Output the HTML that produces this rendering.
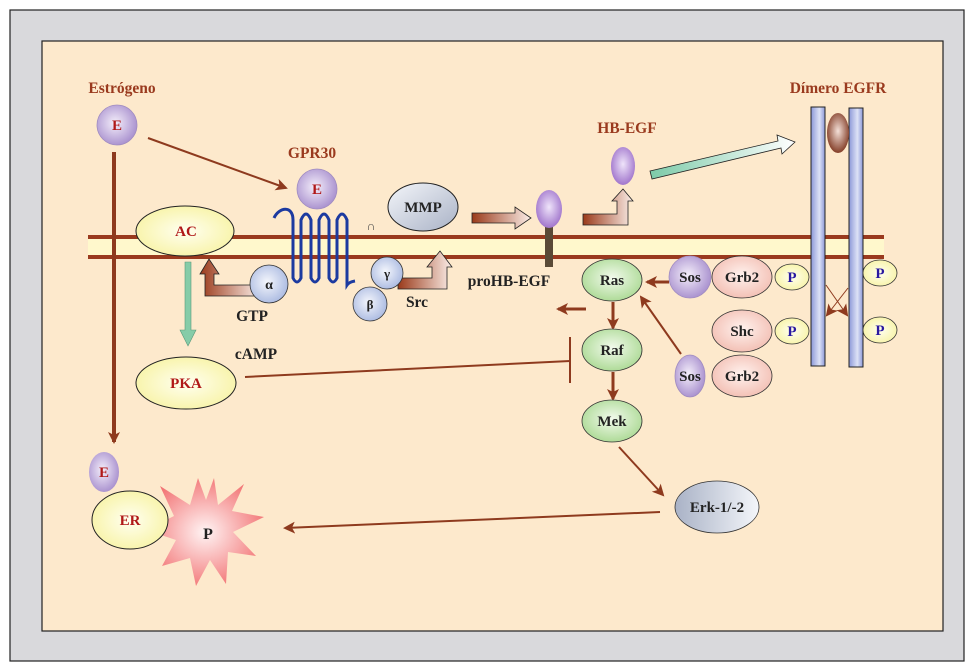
<!DOCTYPE html>
<html><head><meta charset="utf-8"><style>
html,body{margin:0;padding:0;background:#fff}
svg{display:block}
text{font-family:"Liberation Serif",serif;font-weight:bold}
</style></head><body>
<svg width="974" height="670" viewBox="0 0 974 670" xmlns="http://www.w3.org/2000/svg">
<defs>
<radialGradient id="gp" cx="0.45" cy="0.45" r="0.6"><stop offset="0" stop-color="#f4eefa"/><stop offset="1" stop-color="#a58ccc"/></radialGradient>
<radialGradient id="gp2" cx="0.5" cy="0.45" r="0.6"><stop offset="0" stop-color="#efe4fa"/><stop offset="1" stop-color="#9a6cc8"/></radialGradient>
<radialGradient id="gy" cx="0.5" cy="0.5" r="0.6"><stop offset="0" stop-color="#fffff0"/><stop offset="1" stop-color="#f7f2a0"/></radialGradient>
<radialGradient id="gb" cx="0.45" cy="0.45" r="0.6"><stop offset="0" stop-color="#f4f6fc"/><stop offset="1" stop-color="#a8b8e0"/></radialGradient>
<radialGradient id="gg" cx="0.5" cy="0.45" r="0.6"><stop offset="0" stop-color="#f2faec"/><stop offset="1" stop-color="#a8d890"/></radialGradient>
<radialGradient id="gk" cx="0.5" cy="0.45" r="0.6"><stop offset="0" stop-color="#fff2ee"/><stop offset="1" stop-color="#f2bcb0"/></radialGradient>
<radialGradient id="gs" cx="0.5" cy="0.5" r="0.55"><stop offset="0" stop-color="#fff4f4"/><stop offset="1" stop-color="#f27272"/></radialGradient>
<radialGradient id="gbr" cx="0.5" cy="0.45" r="0.6"><stop offset="0" stop-color="#f4e0d8"/><stop offset="1" stop-color="#7a3018"/></radialGradient>
<linearGradient id="gm" x1="0" y1="0" x2="1" y2="0"><stop offset="0" stop-color="#a9b2c6"/><stop offset="1" stop-color="#f4f6fa"/></linearGradient>
<linearGradient id="gm2" x1="0" y1="0" x2="1" y2="1"><stop offset="0" stop-color="#f4f6fa"/><stop offset="1" stop-color="#a9b2c6"/></linearGradient>
<linearGradient id="gbar" x1="0" y1="0" x2="1" y2="0"><stop offset="0" stop-color="#8c98d8"/><stop offset="0.6" stop-color="#dde2f6"/><stop offset="1" stop-color="#8c98d8"/></linearGradient>
<linearGradient id="gar" x1="0" y1="0" x2="1" y2="0"><stop offset="0" stop-color="#9a3a1a"/><stop offset="1" stop-color="#fbeee8"/></linearGradient>
<linearGradient id="gteal" x1="0" y1="0" x2="1" y2="0"><stop offset="0" stop-color="#7ccaa8"/><stop offset="1" stop-color="#ffffff"/></linearGradient>
<marker id="ah" markerWidth="12" markerHeight="12" refX="10" refY="6" orient="auto" markerUnits="userSpaceOnUse"><path d="M0,0 L12,6 L0,12 L3,6 z" fill="#8e3a1e"/></marker>
</defs>
<rect x="10" y="10" width="954" height="651" fill="#d9d9dc" stroke="#222" stroke-width="1.2"/>
<rect x="42" y="41" width="901" height="590" fill="#fde9cc" stroke="#222" stroke-width="1.2"/>
<rect x="88" y="237" width="796" height="20" fill="#fff8cc"/>
<line x1="88" y1="237" x2="884" y2="237" stroke="#9a3a1e" stroke-width="4"/>
<line x1="88" y1="257" x2="884" y2="257" stroke="#9a3a1e" stroke-width="4"/>
<text x="122" y="93" font-size="15.5" fill="#9a3a1e" text-anchor="middle">Estrógeno</text>
<circle cx="117" cy="125" r="20" fill="url(#gp)" stroke="#a08cc0" stroke-width="0.8"/>
<text x="117" y="130" font-size="15" fill="#b01818" text-anchor="middle">E</text>
<line x1="114" y1="152" x2="114" y2="442" stroke="#8e3a1e" stroke-width="4" marker-end="url(#ah)"/>
<line x1="148" y1="138" x2="286" y2="188" stroke="#8e3a1e" stroke-width="2" marker-end="url(#ah)"/>
<text x="312" y="158" font-size="15.5" fill="#9a3a1e" text-anchor="middle">GPR30</text>
<circle cx="317" cy="189" r="20" fill="url(#gp)" stroke="#a08cc0" stroke-width="0.8"/>
<text x="317" y="194" font-size="15" fill="#b01818" text-anchor="middle">E</text>
<path d="M274,218 C279,207 293,205 293,220 L293,278 Q297,286 301,278 L301,220 Q306,208 311,220 L311,278 Q315,286 319,278 L319,220 Q324,208 329,220 L329,278 Q333,286 337,278 L337,220 Q342,208 347,220 L347,285 Q349,282 355,281" fill="none" stroke="#1c3aa0" stroke-width="3"/>
<text x="371" y="230" font-size="12" fill="#444" text-anchor="middle" font-weight="normal">∩</text>
<ellipse cx="185" cy="231" rx="49" ry="25" fill="url(#gy)" stroke="#222" stroke-width="1"/>
<text x="186" y="236" font-size="15" fill="#b01818" text-anchor="middle">AC</text>
<path d="M185,262 L191,262 L191,330 L196,330 L188,346 L180,330 L185,330 z" fill="#86cca8" stroke="#5a9a7a" stroke-width="0.6"/>
<path d="M260,285 L214,285 L214,274 L219,274 L209,259 L200,274 L205,274 L205,296 L260,296 z" fill="url(#gar)" stroke="#222" stroke-width="0.8"/>
<circle cx="269" cy="284" r="19" fill="url(#gb)" stroke="#333" stroke-width="0.8"/>
<text x="269" y="289" font-size="14" fill="#222" text-anchor="middle" font-weight="normal">α</text>
<text x="252" y="321" font-size="15.5" fill="#222" text-anchor="middle">GTP</text>
<path d="M398,278 L432,278 L432,267 L427,267 L440,251 L452,267 L447,267 L447,289 L398,289 z" fill="url(#gar)" stroke="#222" stroke-width="0.8"/>
<circle cx="387" cy="273" r="16" fill="url(#gb)" stroke="#333" stroke-width="0.8"/>
<text x="387" y="278" font-size="13" fill="#222" text-anchor="middle" font-weight="normal">γ</text>
<circle cx="370" cy="304" r="17" fill="url(#gb)" stroke="#333" stroke-width="0.8"/>
<text x="370" y="309" font-size="13" fill="#222" text-anchor="middle" font-weight="normal">β</text>
<text x="417" y="307" font-size="15.5" fill="#222" text-anchor="middle">Src</text>
<ellipse cx="423" cy="207" rx="35" ry="24" fill="url(#gm2)" stroke="#222" stroke-width="1"/>
<text x="423" y="212" font-size="15" fill="#222" text-anchor="middle">MMP</text>
<path d="M472,213 L515,213 L515,207 L531,218 L515,229 L515,223 L472,223 z" fill="url(#gar)" stroke="#222" stroke-width="0.8"/>
<rect x="545" y="226" width="8" height="41" fill="#5a4a36"/>
<ellipse cx="549" cy="209" rx="13" ry="19" fill="url(#gp2)"/>
<text x="509" y="286" font-size="15.5" fill="#222" text-anchor="middle">proHB-EGF</text>
<path d="M583,214 L617,214 L617,201 L612,201 L623,189 L633,201 L628,201 L628,225 L583,225 z" fill="url(#gar)" stroke="#222" stroke-width="0.8"/>
<text x="627" y="133" font-size="15.5" fill="#9a3a1e" text-anchor="middle">HB-EGF</text>
<ellipse cx="623" cy="166" rx="12" ry="19" fill="url(#gp2)"/>
<path d="M650,171 L778,141 L777,135 L795,142 L782,154 L781,148 L652,179 z" fill="url(#gteal)" stroke="#222" stroke-width="0.8"/>
<text x="838" y="93" font-size="15.5" fill="#9a3a1e" text-anchor="middle">Dímero EGFR</text>
<rect x="811" y="107" width="14" height="259" fill="url(#gbar)" stroke="#222" stroke-width="1"/>
<rect x="849" y="108" width="14" height="259" fill="url(#gbar)" stroke="#222" stroke-width="1"/>
<ellipse cx="838" cy="133" rx="11" ry="20" fill="url(#gbr)"/>
<line x1="826" y1="285" x2="847" y2="315" stroke="#8e3a1e" stroke-width="1" marker-end="url(#ah)"/>
<line x1="848" y1="288" x2="827" y2="315" stroke="#8e3a1e" stroke-width="1" marker-end="url(#ah)"/>
<g font-size="15" fill="#2a1aa0" text-anchor="middle">
<ellipse cx="792" cy="277" rx="17" ry="13" fill="url(#gy)" stroke="#333" stroke-width="0.8"/><text x="792" y="282">P</text>
<ellipse cx="880" cy="273" rx="17" ry="13" fill="url(#gy)" stroke="#333" stroke-width="0.8"/><text x="880" y="278">P</text>
<ellipse cx="792" cy="331" rx="17" ry="13" fill="url(#gy)" stroke="#333" stroke-width="0.8"/><text x="792" y="336">P</text>
<ellipse cx="880" cy="330" rx="17" ry="13" fill="url(#gy)" stroke="#333" stroke-width="0.8"/><text x="880" y="335">P</text>
</g>
<g font-size="15" fill="#222" text-anchor="middle">
<ellipse cx="742" cy="277" rx="30" ry="21" fill="url(#gk)" stroke="#333" stroke-width="0.8"/><text x="742" y="282">Grb2</text>
<circle cx="690" cy="277" r="21" fill="url(#gp)" stroke="#a08cc0" stroke-width="0.8"/><text x="690" y="282">Sos</text>
<ellipse cx="742" cy="331" rx="30" ry="21" fill="url(#gk)" stroke="#333" stroke-width="0.8"/><text x="742" y="336">Shc</text>
<ellipse cx="742" cy="376" rx="30" ry="21" fill="url(#gk)" stroke="#333" stroke-width="0.8"/><text x="742" y="381">Grb2</text>
<ellipse cx="690" cy="376" rx="15" ry="21" fill="url(#gp)" stroke="#a08cc0" stroke-width="0.8"/><text x="690" y="381">Sos</text>
</g>
<line x1="669" y1="282" x2="647" y2="282" stroke="#8e3a1e" stroke-width="3" marker-end="url(#ah)"/>
<line x1="681" y1="354" x2="641" y2="297" stroke="#8e3a1e" stroke-width="2" marker-end="url(#ah)"/>
<line x1="586" y1="309" x2="558" y2="309" stroke="#8e3a1e" stroke-width="3" marker-end="url(#ah)"/>
<line x1="613" y1="302" x2="613" y2="328" stroke="#8e3a1e" stroke-width="3" marker-end="url(#ah)"/>
<line x1="613" y1="372" x2="613" y2="399" stroke="#8e3a1e" stroke-width="3" marker-end="url(#ah)"/>
<line x1="619" y1="447" x2="663" y2="495" stroke="#8e3a1e" stroke-width="2" marker-end="url(#ah)"/>
<g font-size="15" fill="#222" text-anchor="middle">
<ellipse cx="612" cy="280" rx="30" ry="21" fill="url(#gg)" stroke="#333" stroke-width="0.8"/><text x="612" y="285">Ras</text>
<ellipse cx="612" cy="350" rx="30" ry="21" fill="url(#gg)" stroke="#333" stroke-width="0.8"/><text x="612" y="355">Raf</text>
<ellipse cx="612" cy="421" rx="30" ry="21" fill="url(#gg)" stroke="#333" stroke-width="0.8"/><text x="612" y="426">Mek</text>
<ellipse cx="717" cy="507" rx="42" ry="26" fill="url(#gm)" stroke="#333" stroke-width="0.8"/><text x="717" y="512">Erk-1/-2</text>
</g>
<line x1="245" y1="377" x2="570" y2="361" stroke="#8e3a1e" stroke-width="2"/>
<line x1="570" y1="337" x2="570" y2="383" stroke="#8e3a1e" stroke-width="2"/>
<ellipse cx="186" cy="383" rx="50" ry="26" fill="url(#gy)" stroke="#222" stroke-width="1"/>
<text x="186" y="388" font-size="15" fill="#b01818" text-anchor="middle">PKA</text>
<text x="256" y="359" font-size="15.5" fill="#222" text-anchor="middle">cAMP</text>
<line x1="660" y1="512" x2="285" y2="528" stroke="#8e3a1e" stroke-width="2" marker-end="url(#ah)"/>
<path d="M214,478 L218,505 L244,484 L232,511 L264,517 L233,532 L256,556 L228,552 L226,584 L210,560 L196,586 L190,558 L162,566 L176,540 L146,530 L174,516 L160,486 L190,505 L198,478 L206,500 z" fill="url(#gs)"/>
<ellipse cx="104" cy="472" rx="15" ry="20" fill="url(#gp)"/>
<text x="104" y="477" font-size="15" fill="#b01818" text-anchor="middle">E</text>
<ellipse cx="130" cy="520" rx="38" ry="29" fill="url(#gy)" stroke="#222" stroke-width="1"/>
<text x="130" y="525" font-size="15" fill="#b01818" text-anchor="middle">ER</text>
<text x="208" y="539" font-size="16" fill="#222" text-anchor="middle">P</text>
</svg>
</body></html>
